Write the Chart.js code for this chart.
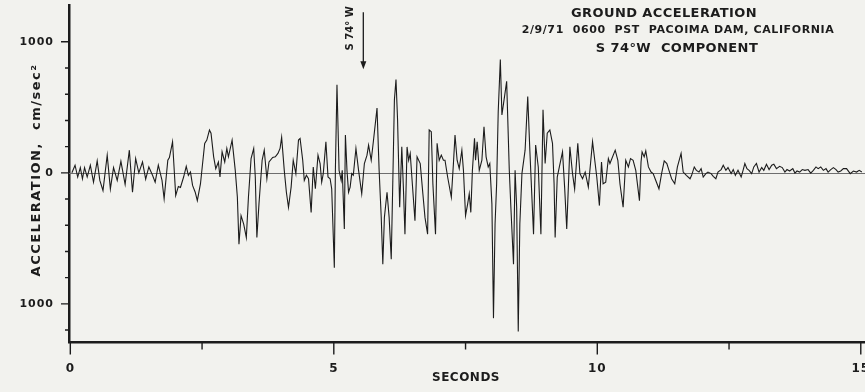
<!DOCTYPE html>
<html>
<head>
<meta charset="utf-8">
<script src="https://cdn.jsdelivr.net/npm/chart.js@4.4.1/dist/chart.umd.min.js"></script>
<style>
html,body{margin:0;padding:0;background:#f2f2ee;}
#wrap{width:865px;height:392px;position:relative;}
canvas{display:block;}
</style>
</head>
<body>
<div id="wrap"><canvas id="c" width="865" height="392"></canvas></div>
<script>
// ---- data (seconds, cm/sec^2) read from the record ----
const seconds = [0.03,0.09,0.14,0.19,0.23,0.27,0.32,0.38,0.44,0.51,0.56,0.62,0.70,0.76,0.82,0.89,0.96,1.04,1.12,1.18,1.24,1.30,1.37,1.43,1.49,1.56,1.61,1.67,1.74,1.78,1.85,1.88,
1.94,2.00,2.05,2.09,2.15,2.20,2.24,2.28,2.32,2.37,2.41,2.47,2.51,2.55,2.59,2.64,2.67,2.72,2.76,2.81,2.84,2.88,2.93,2.97,3.00,3.07,3.13,3.17,3.20,3.24,3.29,3.34,3.38,3.43,3.48,3.51,3.54,3.58,3.64,3.68,3.73,3.77,3.84,
3.89,3.94,3.98,4.01,4.06,4.10,4.14,4.19,4.23,4.28,4.33,4.36,4.41,4.44,4.48,4.52,4.57,4.61,4.65,4.70,4.74,4.77,4.80,4.85,4.89,4.93,4.96,5.01,5.03,5.06,5.08,5.10,5.14,5.16,5.20,5.22,5.25,5.28,5.31,5.34,5.37,5.42,5.47,5.53,5.58,
5.63,5.66,5.71,5.75,5.82,5.86,5.90,5.93,5.96,6.01,6.05,6.09,6.12,6.15,6.18,6.21,6.25,6.29,6.32,6.35,6.39,6.42,6.45,6.49,6.54,6.58,6.64,6.69,6.73,6.78,6.81,6.85,6.88,6.93,6.96,7.00,7.04,7.08,7.11,
7.16,7.23,7.27,7.30,7.34,7.38,7.43,7.46,7.50,7.54,7.57,7.60,7.63,7.67,7.69,7.72,7.76,7.81,7.85,7.89,7.93,7.96,8.00,8.03,8.06,8.09,8.12,8.16,8.19,8.24,8.28,8.33,8.36,8.41,8.44,8.47,8.50,8.53,8.57,8.63,8.68,8.72,8.79,8.83,8.88,8.93,8.97,
9.01,9.05,9.10,9.15,9.18,9.20,9.24,9.28,9.34,9.38,9.42,9.48,9.53,9.57,9.63,9.67,9.72,9.77,9.83,9.91,9.99,10.04,10.08,10.11,10.16,10.21,10.24,10.34,10.39,10.43,10.49,10.54,10.59,10.63,10.68,10.73,10.80,
10.83,10.85,10.89,10.92,10.97,11.02,11.06,11.11,11.17,11.22,11.27,11.32,11.36,11.41,11.47,11.52,11.59,11.63,11.69,11.76,11.79,11.84,11.88,11.93,11.97,12.01,12.06,12.10,12.16,12.20,12.25,12.29,12.35,12.39,12.44,12.48,12.54,12.58,12.62,12.67,12.73,12.77,
12.80,12.84,12.88,12.93,12.97,13.02,13.07,13.12,13.16,13.21,13.26,13.31,13.35,13.40,13.46,13.51,13.56,13.60,13.65,13.71,13.75,13.79,13.84,13.89,13.94,14.00,14.05,14.10,14.15,14.19,14.24,14.29,14.34,14.38,14.43,14.48,14.53,14.57,14.62,14.67,14.73,14.80,14.86,14.92,14.97,15.02];

const accel = [0,58,-32,40,-45,40,-32,58,-71,91,-58,-135,135,-122,40,-58,88,-88,173,-148,109,0,83,-48,45,-19,-71,58,-58,-198,96,117,
237,-173,-104,-112,-32,50,-19,6,-96,-148,-212,-83,71,225,250,327,302,122,32,83,-32,160,83,186,122,250,19,-186,-545,-327,-391,-494,-186,109,186,-32,-494,-237,96,173,-45,83,117,
122,148,186,271,19,-148,-263,-109,96,-6,250,263,96,-58,-19,-45,-302,45,-122,135,71,-71,-6,237,-32,-45,-122,-725,19,673,352,19,-58,19,-429,288,19,-148,-109,-6,-19,186,19,-160,71,
135,212,96,237,494,19,-340,-698,-340,-148,-340,-660,-58,558,712,404,-263,198,-109,-468,198,96,148,-83,-365,122,71,-160,-340,-468,327,314,-83,-468,225,96,135,96,96,
-32,-186,71,288,96,32,173,19,-327,-237,-160,-302,19,263,96,237,19,96,352,122,45,71,-237,-1109,-391,-83,468,865,442,583,698,19,-263,-698,19,-263,-1211,-391,-6,173,583,173,-468,212,45,-468,481,
71,302,327,225,-83,-494,-32,45,160,-109,-429,198,-6,-122,225,-6,-45,6,-109,237,-32,-250,83,-83,-71,109,71,173,96,-83,-263,96,45,109,96,19,-212,
83,160,122,168,45,6,-6,-58,-122,-6,91,71,19,-45,-83,45,148,6,-19,-45,-19,45,19,6,32,-32,-6,6,-6,-27,-45,6,25,58,19,40,-6,25,-19,19,-32,25,
71,32,19,-6,45,71,6,40,19,65,25,58,65,32,50,40,6,25,14,32,-2,14,6,25,19,25,-2,19,45,32,45,19,32,6,25,40,25,6,14,32,32,-6,14,6,19,6];

const xMajorTicks = [0, 5, 10, 15];
const xMinorTicks = [2.5, 7.5, 12.5];
const yMajorTicks = [-1000, 0, 1000];
const yMinorTicks = [-1200, -800, -600, -400, -200, 200, 400, 600, 800];
const yTickText = {"-1000": "1000", "0": "0", "1000": "1000"};
const xTickText = {"0": "0", "5": "5", "10": "10", "15": "15"};
const titleLines = ["GROUND ACCELERATION", "2/9/71  0600  PST  PACOIMA DAM, CALIFORNIA", "S 74°W  COMPONENT"];
const xAxisTitle = "SECONDS";
const yAxisTitle = "ACCELERATION,  cm/sec²";
const arrowText = "S 74° W";
const arrowTime = [5.56];
const arrowRange = [1225, 790];

// ---- chart ----
const INK = '#1c1c1c';
const BG = '#f2f2ee';
const FONT = '"DejaVu Sans", sans-serif';

const points = seconds.map((t, i) => ({x: t, y: accel[i]}));

const decor = {
  id: 'decor',
  beforeDraw(chart) {
    const c = chart.ctx;
    c.save();
    c.fillStyle = BG;
    c.fillRect(0, 0, chart.width, chart.height);
    c.restore();
    c.letterSpacing = '1px';
  },
  beforeDatasetsDraw(chart) {
    const c = chart.ctx, ys = chart.scales.y, a = chart.chartArea;
    const y0 = ys.getPixelForValue(0);
    c.save();
    c.strokeStyle = '#6e6e6e';
    c.lineWidth = 1;
    c.beginPath();
    c.moveTo(a.left, Math.round(y0) + 0.5);
    c.lineTo(a.right, Math.round(y0) + 0.5);
    c.stroke();
    c.restore();
  },
  afterDraw(chart) {
    const c = chart.ctx, xs = chart.scales.x, ys = chart.scales.y, a = chart.chartArea;
    c.save();
    c.strokeStyle = INK;
    c.fillStyle = INK;
    c.lineWidth = 1.4;
    c.beginPath();
    yMajorTicks.forEach(v => { const p = ys.getPixelForValue(v); c.moveTo(a.left, p); c.lineTo(a.left - 8, p); });
    yMinorTicks.forEach(v => { const p = ys.getPixelForValue(v); c.moveTo(a.left, p); c.lineTo(a.left - 4, p); });
    xMajorTicks.forEach(v => { const p = xs.getPixelForValue(v); c.moveTo(p, a.bottom); c.lineTo(p, a.bottom + 12); });
    xMinorTicks.forEach(v => { const p = xs.getPixelForValue(v); c.moveTo(p, a.bottom); c.lineTo(p, a.bottom + 7); });
    c.stroke();

    c.textAlign = 'center';
    c.textBaseline = 'middle';
    c.font = 'bold 13px ' + FONT;
    c.letterSpacing = '0.4px';
    c.fillText(titleLines[0], 664, 14);
    c.font = 'bold 11px ' + FONT;
    c.letterSpacing = '0.6px';
    c.fillText(titleLines[1], 678, 30);
    c.font = 'bold 13px ' + FONT;
    c.letterSpacing = '0.4px';
    c.fillText(titleLines[2], 677, 49);

    c.font = 'bold 12px ' + FONT;
    c.letterSpacing = '0.5px';
    c.fillText(xAxisTitle, 466, 378);

    c.save();
    c.translate(37, 170);
    c.rotate(-Math.PI / 2);
    c.font = 'bold 13px ' + FONT;
    c.letterSpacing = '1.5px';
    c.fillText(yAxisTitle, 0, 0);
    c.restore();

    const ax = xs.getPixelForValue(arrowTime[0]);
    const ay1 = ys.getPixelForValue(arrowRange[0]);
    const ay2 = ys.getPixelForValue(arrowRange[1]);
    c.lineWidth = 1.3;
    c.beginPath();
    c.moveTo(ax, ay1);
    c.lineTo(ax, ay2 - 6);
    c.stroke();
    c.beginPath();
    c.moveTo(ax - 3, ay2 - 8);
    c.lineTo(ax + 3, ay2 - 8);
    c.lineTo(ax, ay2);
    c.closePath();
    c.fill();
    c.save();
    c.translate(ax - 13, (ay1 + ay2 - 25) / 2);
    c.rotate(-Math.PI / 2);
    c.font = 'bold 10px ' + FONT;
    c.letterSpacing = '0px';
    c.fillText(arrowText, 0, 0);
    c.restore();
    c.restore();
  }
};

new Chart(document.getElementById('c'), {
  type: 'line',
  data: {
    datasets: [{
      data: points,
      borderColor: INK,
      borderWidth: 1.1,
      pointRadius: 0,
      tension: 0,
      fill: false
    }]
  },
  options: {
    responsive: false,
    devicePixelRatio: 1,
    animation: false,
    events: [],
    layout: {padding: {top: 5, right: 0, left: 0, bottom: 0}},
    plugins: {legend: {display: false}, tooltip: {enabled: false}, title: {display: false}},
    scales: {
      x: {
        type: 'linear',
        min: -0.025,
        max: 15.08,
        grid: {display: false, drawTicks: false},
        border: {display: true, color: INK, width: 2.5},
        afterBuildTicks: s => { s.ticks = xMajorTicks.map(v => ({value: v})); },
        afterFit: s => { s.height = 49.5; s.paddingLeft = 0; s.paddingRight = 0; },
        ticks: {
          color: INK,
          padding: 19,
          maxRotation: 0,
          autoSkip: false,
          font: {family: FONT, size: 12, weight: 'bold'},
          callback: v => xTickText[String(v)] ?? ''
        }
      },
      y: {
        type: 'linear',
        min: -1295,
        max: 1281,
        grid: {display: false, drawTicks: false},
        border: {display: true, color: INK, width: 2.5},
        afterBuildTicks: s => { s.ticks = yMajorTicks.map(v => ({value: v})); },
        afterFit: s => { s.width = 69; s.paddingTop = 0; s.paddingBottom = 0; },
        ticks: {
          color: INK,
          padding: 15,
          autoSkip: false,
          font: {family: FONT, size: 11, weight: 'bold'},
          callback: v => yTickText[String(v)] ?? ''
        }
      }
    }
  },
  plugins: [decor]
});
</script>
</body>
</html>
